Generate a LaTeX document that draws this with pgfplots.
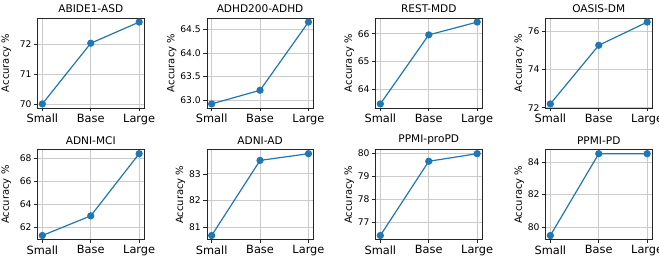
\documentclass[border=0pt]{standalone}
\usepackage{fontspec}
\setmainfont{DejaVu Sans}
\usepackage{pgfplots}
\pgfplotsset{compat=1.18}
\definecolor{mplblue}{HTML}{1F77B4}
\definecolor{gridc}{HTML}{CBCBCB}
\pgfplotsset{
  panel/.style={
    scale only axis,
    width=106.5bp, height=90bp,
    anchor=south west,
    xmin=-0.1, xmax=2.1,
    xtick={0,1,2},
    xticklabels={Small,Base,Large},
    grid=major,
    major grid style={draw=gridc, line width=0.7bp},
    axis line style={draw=black!85, line width=0.6bp},
    tick align=outside,
    tick pos=left,
    major tick length=3.5bp,
    every tick/.style={black!85, line width=0.6bp},
    /pgf/number format/assume math mode=true,
    x tick label style={font=\fontsize{11.4}{13}\selectfont, yshift=1bp},
    y tick label style={font=\fontsize{9.2}{11}\selectfont, xshift=1bp},
    ylabel={Accuracy \%},
    ylabel style={font=\fontsize{10}{12}\selectfont, yshift=-3bp},
    title style={font=\fontsize{10.6}{12}\selectfont, yshift=-4.5bp},
  },
  ln/.style={color=mplblue, line width=1.2bp, mark=*, mark size=3bp, mark options={fill=mplblue, draw=mplblue}},
  firstcol/.style={ylabel style={yshift=5bp}},
}
\begin{document}
\begin{tikzpicture}
\useasboundingbox (0,0) rectangle (659bp,260bp);
% Row 1
\begin{axis}[panel, firstcol, at={(37.5bp,152bp)}, title={ABIDE1-ASD},
  ymin=69.8625, ymax=72.8875, ytick={70,71,72}]
\addplot[ln] coordinates {(0,70.0) (1,72.04) (2,72.75)};
\end{axis}
\begin{axis}[panel, at={(206.8bp,152bp)}, title={ADHD200-ADHD},
  ymin=62.833, ymax=64.747, ytick={63.0,63.5,64.0,64.5},
  yticklabel style={/pgf/number format/.cd, fixed, fixed zerofill, precision=1}]
\addplot[ln] coordinates {(0,62.92) (1,63.21) (2,64.66)};
\end{axis}
\begin{axis}[panel, at={(375.5bp,152bp)}, title={REST-MDD},
  ymin=63.333, ymax=66.567, ytick={64,65,66}]
\addplot[ln] coordinates {(0,63.48) (1,65.96) (2,66.42)};
\end{axis}
\begin{axis}[panel, at={(545.5bp,152bp)}, title={OASIS-DM},
  ymin=71.985, ymax=76.715, ytick={72,74,76}]
\addplot[ln] coordinates {(0,72.2) (1,75.28) (2,76.5)};
\end{axis}
% Row 2
\begin{axis}[panel, firstcol, at={(37.5bp,20.4bp)}, title={ADNI-MCI},
  ymin=60.946, ymax=68.734, ytick={62,64,66,68}]
\addplot[ln] coordinates {(0,61.3) (1,63.0) (2,68.38)};
\end{axis}
\begin{axis}[panel, at={(206.8bp,20.4bp)}, title={ADNI-AD},
  ymin=80.5475, ymax=83.9025, ytick={81,82,83}]
\addplot[ln] coordinates {(0,80.7) (1,83.5) (2,83.75)};
\end{axis}
\begin{axis}[panel, at={(375.5bp,20.4bp)}, title={PPMI-proPD},
  ymin=76.252, ymax=80.168, ytick={77,78,79,80}]
\addplot[ln] coordinates {(0,76.43) (1,79.66) (2,79.99)};
\end{axis}
\begin{axis}[panel, at={(545.5bp,20.4bp)}, title={PPMI-PD},
  ymin=79.25, ymax=84.75, ytick={80,82,84}]
\addplot[ln] coordinates {(0,79.5) (1,84.5) (2,84.5)};
\end{axis}
\end{tikzpicture}
\end{document}
